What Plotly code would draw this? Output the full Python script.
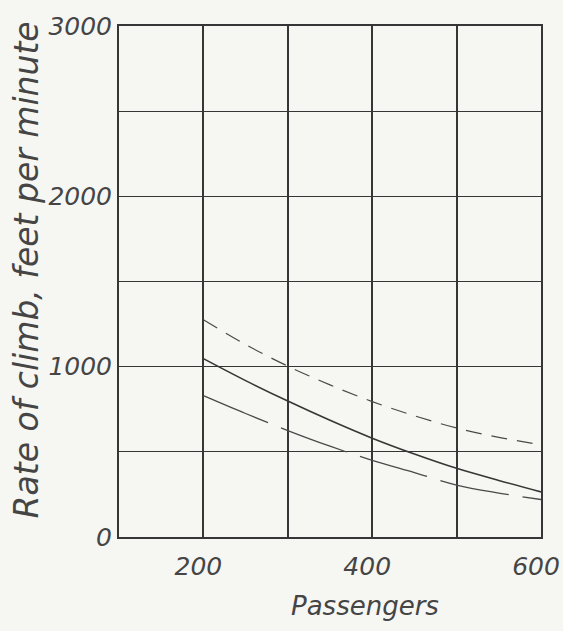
import plotly.graph_objects as go

passengers = [200, 250, 300, 350, 400, 450, 500, 550, 600]
climb_dashed = [1275, 1130, 1003, 893, 795, 712, 640, 585, 542]
climb_solid = [1047, 918, 798, 685, 580, 487, 403, 332, 265]
climb_longdash = [830, 725, 625, 533, 450, 378, 305, 258, 220]

x_tickvals = [200, 400, 600]
x_ticktext = ["200", "400", "600"]
y_tickvals = [0, 1000, 2000, 3000]
y_ticktext = ["0", "1000", "2000", "3000"]

ink = "#363636"
bg = "#f6f6f2"
hand_font = dict(family="DejaVu Sans ExtraLight, DejaVu Sans", color="#454545", style="italic", weight=200)

fig = go.Figure()
fig.add_trace(go.Scatter(x=passengers, y=climb_dashed, mode="lines",
                         line=dict(color="#4a4a4a", width=1.2, dash="16px,10px", shape="spline"),
                         showlegend=False))
fig.add_trace(go.Scatter(x=passengers, y=climb_solid, mode="lines",
                         line=dict(color=ink, width=1.6, shape="spline"),
                         showlegend=False))
fig.add_trace(go.Scatter(x=passengers, y=climb_longdash, mode="lines",
                         line=dict(color="#4a4a4a", width=1.3, dash="70px,14px", shape="spline"),
                         showlegend=False))

fig.update_layout(
    width=563, height=631,
    margin=dict(l=119, r=22, t=26, b=94),
    paper_bgcolor=bg, plot_bgcolor=bg,
    showlegend=False,
    xaxis=dict(range=[100, 600], tickvals=x_tickvals, ticktext=x_ticktext,
               automargin=False,
               showgrid=True, gridcolor=ink, gridwidth=2,
               minor=dict(dtick=100, tick0=0, showgrid=True, gridcolor=ink, gridwidth=2),
               showline=True, linecolor=ink, linewidth=1.5, mirror=True,
               zeroline=False, ticks="", ticklabelstandoff=6, ticklabelshift=-5,
               tickfont=dict(size=25, **hand_font)),
    yaxis=dict(range=[0, 3000], tickvals=y_tickvals, ticktext=y_ticktext,
               automargin=False,
               showgrid=True, gridcolor=ink, gridwidth=1.2,
               minor=dict(dtick=500, tick0=0, showgrid=True, gridcolor=ink, gridwidth=1.2),
               showline=True, linecolor=ink, linewidth=2, mirror=True,
               zeroline=False, ticks="", ticklabelstandoff=0,
               tickfont=dict(size=25, **hand_font)),
    annotations=[
        dict(text="Passengers", xref="paper", yref="paper", x=0.583, y=-0.135,
             xanchor="center", yanchor="middle", showarrow=False,
             font=dict(size=26, **hand_font)),
        dict(text="Rate of climb, feet per minute", xref="paper", yref="paper",
             x=-0.22, y=0.522, textangle=-90,
             xanchor="center", yanchor="middle", showarrow=False,
             font=dict(size=33, **hand_font)),
    ],
)

fig.write_html(
    "out.html",
    config={"displayModeBar": False},
    post_script="document.body.style.margin='0';document.body.style.background='%s';" % bg,
)
